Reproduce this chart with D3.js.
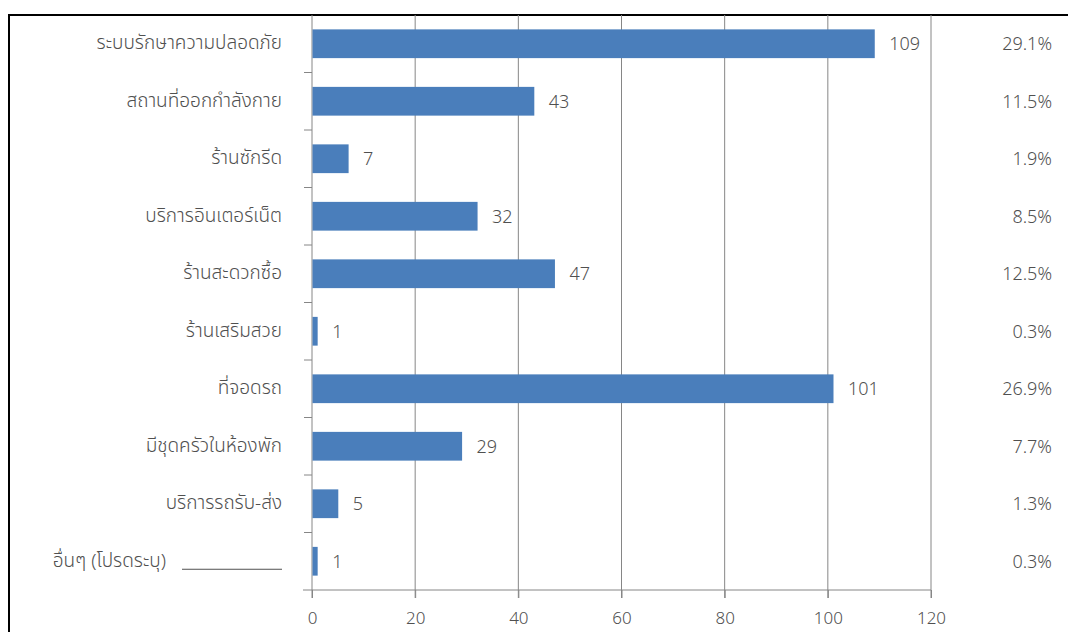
<!DOCTYPE html>
<html><head><meta charset="utf-8">
<script src="https://cdn.jsdelivr.net/npm/d3@7/dist/d3.min.js"></script>
<style>body{margin:0;background:#fff}svg{display:block}text{font-family:"Noto Sans Thai","Noto Sans","DejaVu Sans",sans-serif;font-weight:300}</style>
</head><body><svg id="c" width="1068" height="632"></svg>
<script>
const categories = ["ระบบรักษาความปลอดภัย","สถานที่ออกกำลังกาย","ร้านซักรีด","บริการอินเตอร์เน็ต","ร้านสะดวกซื้อ","ร้านเสริมสวย","ที่จอดรถ","มีชุดครัวในห้องพัก","บริการรถรับ-ส่ง","อื่นๆ (โปรดระบุ)"];
const values = [109,43,7,32,47,1,101,29,5,1];
const percents = ["29.1%","11.5%","1.9%","8.5%","12.5%","0.3%","26.9%","7.7%","1.3%","0.3%"];
const xTicks = [0,20,40,60,80,100,120];

(function(){
const svg = d3.select("#c");
const pL = 312, pR = 931, pT = 15, pB = 590;
const x = d3.scaleLinear().domain([0,120]).range([pL,pR]);
const y = d3.scaleBand().domain(categories).range([pT,pB]).paddingInner(0.5).paddingOuter(0.25);
const grey = "#868686", txt = "#505050", fs = "18px";

svg.append("path").attr("d","M9,632 V15 H1068").attr("fill","none").attr("stroke","#000").attr("stroke-width",2);

svg.append("g").selectAll("line").data(xTicks.slice(1)).join("line")
  .attr("x1",d=>x(d)).attr("x2",d=>x(d)).attr("y1",pT).attr("y2",pB+8)
  .attr("stroke",grey).attr("stroke-width",1);

const xa = svg.append("g").attr("transform",`translate(0,${pB})`)
  .call(d3.axisBottom(x).tickValues(xTicks).tickSize(8).tickPadding(14).tickSizeOuter(0));
xa.select(".domain").attr("stroke",grey).attr("d",`M${pL-9},0H${pR}`);
xa.selectAll(".tick line").attr("stroke",grey);
xa.selectAll("text").attr("fill",txt).style("font-size","17px");

const bounds = d3.range(categories.length+1).map(i=>pT + i*(pB-pT)/categories.length);
svg.append("g").selectAll("line").data(bounds.slice(1,-1)).join("line")
  .attr("x1",pL-8).attr("x2",pL).attr("y1",d=>d).attr("y2",d=>d).attr("stroke",grey);
svg.append("line").attr("x1",pL).attr("x2",pL).attr("y1",pT).attr("y2",pB+8).attr("stroke",grey);

svg.append("g").selectAll("rect").data(values).join("rect")
  .attr("x",x(0)+0.5).attr("y",(d,i)=>y(categories[i]))
  .attr("width",d=>x(d)-x(0)).attr("height",y.bandwidth())
  .attr("fill","#4a7ebb");

svg.append("g").selectAll("text").data(values).join("text")
  .attr("x",d=>x(d)+15).attr("y",(d,i)=>y(categories[i])+y.bandwidth()/2)
  .attr("dy","0.35em").attr("fill",txt).style("font-size",fs).text(d=>d);

svg.append("g").selectAll("text").data(categories).join("text")
  .attr("x",(d,i)=> i===categories.length-1 ? 166 : 282)
  .attr("y",d=>y(d)+y.bandwidth()/2).attr("dy","0.3em")
  .attr("text-anchor","end").attr("fill",txt).style("font-size","19px").text(d=>d);
const last = categories[categories.length-1];
svg.append("line").attr("x1",182).attr("x2",282)
  .attr("y1",y(last)+y.bandwidth()/2+8).attr("y2",y(last)+y.bandwidth()/2+8)
  .attr("stroke",txt).attr("stroke-width",1);

svg.append("g").selectAll("text").data(percents).join("text")
  .attr("x",1052).attr("y",(d,i)=>y(categories[i])+y.bandwidth()/2).attr("dy","0.35em")
  .attr("text-anchor","end").attr("fill",txt).style("font-size",fs).text(d=>d);
})();
</script></body></html>
